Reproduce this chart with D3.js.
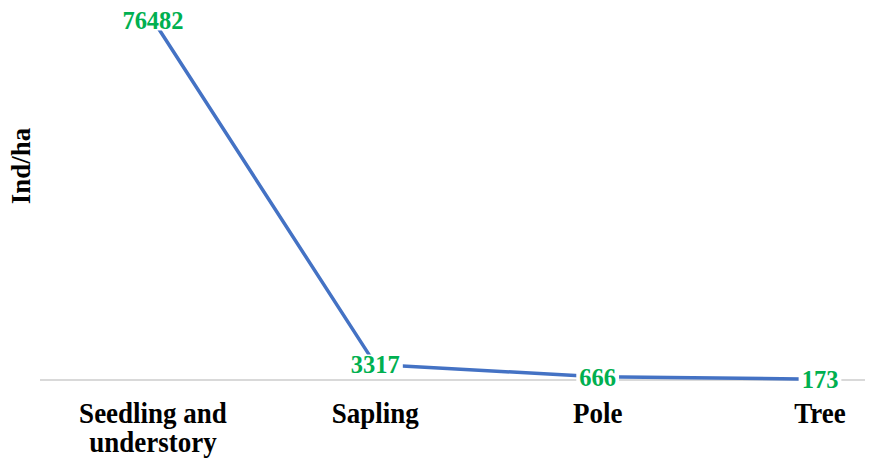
<!DOCTYPE html>
<html>
<head>
<meta charset="utf-8">
<script src="https://cdn.jsdelivr.net/npm/d3@7"></script>
<style>
  body { margin: 0; background: #fff; }
  text { font-family: "Liberation Serif", "Times New Roman", serif; font-weight: bold; }
</style>
</head>
<body>
<script>
const categories = ["Seedling and understory", "Sapling", "Pole", "Tree"];
const values = [76482, 3317, 666, 173];
const yLabel = "Ind/ha";

const width = 872, height = 461;
const margin = {top: 20, right: 7, bottom: 81, left: 40};

const svg = d3.select("body").append("svg")
    .attr("width", width)
    .attr("height", height);

const x = d3.scalePoint()
    .domain(categories)
    .range([153, 820]);

const y = d3.scaleLinear()
    .domain([0, d3.max(values)])
    .range([height - margin.bottom, margin.top]);

// baseline
svg.append("line")
    .attr("x1", margin.left)
    .attr("x2", width - margin.right)
    .attr("y1", y(0))
    .attr("y2", y(0))
    .attr("stroke", "#d9d9d9")
    .attr("stroke-width", 2);

const data = categories.map((c, i) => ({c, v: values[i]}));

svg.append("path")
    .datum(data)
    .attr("fill", "none")
    .attr("stroke", "#4472c4")
    .attr("stroke-width", 3.5)
    .attr("stroke-linejoin", "round")
    .attr("d", d3.line().x(d => x(d.c)).y(d => y(d.v)));

// data labels with white boxes
const lab = svg.append("g").selectAll("g")
    .data(data)
    .join("g")
    .attr("transform", d => `translate(${x(d.c)},${y(d.v)})`);

lab.append("text")
    .attr("text-anchor", "middle")
    .attr("dy", "0.35em")
    .attr("fill", "#00b050")
    .attr("font-size", 24.5)
    .attr("transform", "scale(1,1.05)")
    .text(d => d.v);

lab.each(function() {
  const g = d3.select(this);
  const b = g.select("text").node().getBBox();
  g.insert("rect", "text")
      .attr("x", b.x - 3)
      .attr("y", b.y + 3)
      .attr("width", b.width + 6)
      .attr("height", b.height - 6)
      .attr("fill", "#fff");
});

// category labels
const xa = svg.append("g").selectAll("text")
    .data(categories)
    .join("text")
    .attr("text-anchor", "middle")
    .attr("font-size", 27)
    .attr("fill", "#000")
    .attr("transform", d => `translate(${x(d)},423) scale(1,1.08)`);

xa.each(function(d) {
  const t = d3.select(this);
  const parts = d === "Seedling and understory" ? ["Seedling and", "understory"] : [d];
  parts.forEach((p, i) => {
    t.append("tspan").attr("x", 0).attr("dy", i ? 27 : 0).text(p);
  });
});

svg.append("text")
    .attr("transform", `translate(30,166) rotate(-90)`)
    .attr("text-anchor", "middle")
    .attr("font-size", 27)
    .attr("fill", "#000")
    .text(yLabel);
</script>
</body>
</html>
